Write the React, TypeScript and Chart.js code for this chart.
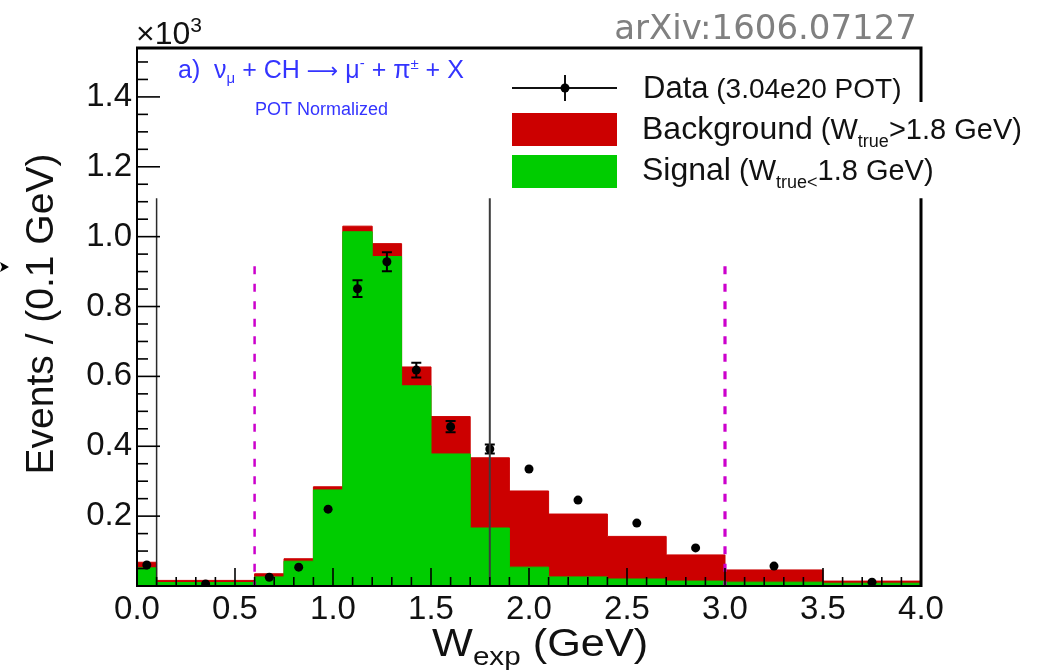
import React, { useEffect, useRef } from 'react';
import { Chart, registerables } from 'chart.js';

Chart.register(...registerables);

// ---- data ----
const binEdges = [0, 0.1, 0.6, 0.75, 0.9, 1.05, 1.2, 1.35, 1.5, 1.7, 1.9, 2.1, 2.4, 2.7, 3.0, 3.5, 4.0];
const signalValues = [0.052, 0.010, 0.026, 0.071, 0.275, 1.014, 0.943, 0.573, 0.378, 0.166, 0.054, 0.026, 0.020, 0.014, 0.011, 0.008];
const backgroundValues = [0.016, 0.006, 0.009, 0.007, 0.009, 0.016, 0.037, 0.054, 0.107, 0.201, 0.218, 0.180, 0.122, 0.075, 0.035, 0.006];
const dataX = [0.05, 0.35, 0.675, 0.825, 0.975, 1.125, 1.275, 1.425, 1.6, 1.8, 2.0, 2.25, 2.55, 2.85, 3.25, 3.75];
const dataY = [0.060, 0.006, 0.025, 0.054, 0.220, 0.851, 0.928, 0.618, 0.456, 0.392, 0.335, 0.246, 0.180, 0.109, 0.057, 0.011];
const dataErr = [0.006, 0.003, 0.005, 0.007, 0.012, 0.024, 0.027, 0.021, 0.016, 0.013, 0.011, 0.008, 0.007, 0.006, 0.004, 0.003];

const xMin = 0;
const xMax = 4;
const yMin = 0;
const yMax = 1.54;
const xMajorStep = 0.5;
const xMinorStep = 0.1;
const yMajorStep = 0.2;
const yMinorStep = 0.05;
const yTickTop = 1.5;

const cutLines = [0.6, 3.0];
const cutTop = 0.915;
const trueCut = 1.8;
const lowerPadTop = 1.11;

const RED = '#cc0000';
const GREEN = '#00cc00';
const MAGENTA = '#cc00cc';
const BLUE = '#3434ff';
const INK = '#111111';
const SANS = '"Liberation Sans", Arial, Helvetica, sans-serif';

type Part = { t: string; size: number; dy?: number; family?: string };

function drawRich(ctx: CanvasRenderingContext2D, parts: Part[], x: number, y: number, color: string, sx = 1) {
  ctx.save();
  ctx.translate(x, y);
  ctx.scale(sx, 1);
  ctx.fillStyle = color;
  ctx.textBaseline = 'alphabetic';
  ctx.textAlign = 'left';
  let cx = 0;
  for (const p of parts) {
    ctx.font = `${p.size}px ${p.family || SANS}`;
    ctx.fillText(p.t, cx, p.dy || 0);
    cx += ctx.measureText(p.t).width;
  }
  ctx.restore();
}

const rootPlugin = {
  id: 'rootStyle',
  afterDatasetsDraw(chart: any) {
    const ctx: CanvasRenderingContext2D = chart.ctx;
    const xs = chart.scales.x;
    const ys = chart.scales.y;
    const area = chart.chartArea;
    ctx.save();

    // error bars of data
    ctx.strokeStyle = '#000';
    ctx.lineWidth = 2;
    for (let i = 0; i < dataX.length; i++) {
      const px = xs.getPixelForValue(dataX[i]);
      const pLo = ys.getPixelForValue(dataY[i] - dataErr[i]);
      const pHi = ys.getPixelForValue(dataY[i] + dataErr[i]);
      if (pLo - pHi > 9) {
        ctx.beginPath();
        ctx.moveTo(px, pLo);
        ctx.lineTo(px, pHi);
        ctx.moveTo(px - 5, pLo);
        ctx.lineTo(px + 5, pLo);
        ctx.moveTo(px - 5, pHi);
        ctx.lineTo(px + 5, pHi);
        ctx.stroke();
      }
    }

    // magenta cut lines
    ctx.strokeStyle = MAGENTA;
    ctx.setLineDash([8, 9.5]);
    cutLines.forEach((c, i) => {
      ctx.lineWidth = i === 0 ? 2.5 : 3.2;
      const px = xs.getPixelForValue(c);
      ctx.beginPath();
      ctx.moveTo(px, ys.getPixelForValue(cutTop));
      ctx.lineTo(px, ys.getPixelForValue(0));
      ctx.stroke();
    });
    ctx.setLineDash([]);

    // W_true cut line
    ctx.strokeStyle = '#3c3c3c';
    ctx.lineWidth = 2;
    let px = xs.getPixelForValue(trueCut);
    ctx.beginPath();
    ctx.moveTo(px, ys.getPixelForValue(lowerPadTop));
    ctx.lineTo(px, ys.getPixelForValue(0));
    ctx.stroke();

    // inner (second pad) left axis line
    ctx.strokeStyle = '#2a2a2a';
    ctx.lineWidth = 1.5;
    px = xs.getPixelForValue(binEdges[1]);
    ctx.beginPath();
    ctx.moveTo(px, ys.getPixelForValue(lowerPadTop));
    ctx.lineTo(px, ys.getPixelForValue(0));
    ctx.stroke();

    // ticks
    ctx.strokeStyle = '#000';
    ctx.lineWidth = 1.6;
    const yb = ys.getPixelForValue(0);
    for (let k = 0; k <= Math.round((xMax - xMin) / xMinorStep); k++) {
      const v = xMin + k * xMinorStep;
      const isMajor = Math.abs(v / xMajorStep - Math.round(v / xMajorStep)) < 1e-6;
      const p = xs.getPixelForValue(v);
      ctx.beginPath();
      ctx.moveTo(p, yb);
      ctx.lineTo(p, yb - (isMajor ? 18 : 9));
      ctx.stroke();
    }
    const xl = xs.getPixelForValue(xMin);
    for (let k = 0; k <= Math.round((yTickTop - yMin) / yMinorStep); k++) {
      const v = yMin + k * yMinorStep;
      const isMajor = Math.abs(v / yMajorStep - Math.round(v / yMajorStep)) < 1e-6;
      const p = ys.getPixelForValue(v);
      ctx.beginPath();
      ctx.moveTo(xl, p);
      ctx.lineTo(xl + (isMajor ? 23 : 11), p);
      ctx.stroke();
    }

    // frame
    ctx.strokeStyle = '#000';
    ctx.lineWidth = 2;
    ctx.beginPath();
    ctx.moveTo(area.left, area.top);
    ctx.lineTo(area.left, area.bottom);
    ctx.lineTo(area.right, area.bottom);
    ctx.stroke();
    ctx.lineWidth = 3;
    ctx.beginPath();
    ctx.moveTo(area.left - 1, area.top);
    ctx.lineTo(area.right, area.top);
    ctx.lineTo(area.right, 102);
    ctx.moveTo(area.right, ys.getPixelForValue(lowerPadTop));
    ctx.lineTo(area.right, area.bottom + 1);
    ctx.stroke();
    ctx.restore();
  },
  afterDraw(chart: any) {
    const ctx: CanvasRenderingContext2D = chart.ctx;
    ctx.save();

    // exponent
    drawRich(ctx, [{ t: '×10', size: 32 }, { t: '3', size: 21, dy: -12 }], 136, 44, INK);

    // arXiv tag
    ctx.font = '34px "DejaVu Sans", sans-serif';
    ctx.fillStyle = '#808080';
    ctx.textAlign = 'right';
    ctx.textBaseline = 'alphabetic';
    ctx.fillText('arXiv:1606.07127', 917, 39);

    // process label
    drawRich(
      ctx,
      [
        { t: 'a)  ν', size: 25 },
        { t: 'μ', size: 15, dy: 5 },
        { t: ' + CH ', size: 25 },
        { t: '⟶', size: 22, family: '"DejaVu Sans", sans-serif' },
        { t: ' μ', size: 25 },
        { t: '-', size: 15, dy: -10 },
        { t: ' + π', size: 25 },
        { t: '±', size: 15, dy: -9 },
        { t: ' + X', size: 25 },
      ],
      178,
      78,
      BLUE
    );
    drawRich(ctx, [{ t: 'POT Normalized', size: 18 }], 255, 115, BLUE);

    // legend
    ctx.strokeStyle = '#111';
    ctx.lineWidth = 2;
    ctx.beginPath();
    ctx.moveTo(512, 88);
    ctx.lineTo(617, 88);
    ctx.moveTo(565, 75);
    ctx.lineTo(565, 101);
    ctx.stroke();
    ctx.fillStyle = '#000';
    ctx.beginPath();
    ctx.arc(565, 88, 4.5, 0, Math.PI * 2);
    ctx.fill();
    ctx.fillStyle = RED;
    ctx.fillRect(512, 113, 105, 33);
    ctx.fillStyle = GREEN;
    ctx.fillRect(512, 155, 105, 33);

    drawRich(ctx, [{ t: 'Data', size: 31 }, { t: ' (3.04e20 POT)', size: 28 }], 643, 98, INK);
    drawRich(
      ctx,
      [
        { t: 'Background', size: 32 },
        { t: ' (W', size: 29 },
        { t: 'true', size: 18, dy: 8 },
        { t: '>1.8 GeV)', size: 29 },
      ],
      642,
      139,
      INK
    );
    drawRich(
      ctx,
      [
        { t: 'Signal', size: 32 },
        { t: ' (W', size: 29 },
        { t: 'true<', size: 18, dy: 8 },
        { t: '1.8 GeV)', size: 29 },
      ],
      642,
      180,
      INK
    );

    // axis titles
    drawRich(
      ctx,
      [{ t: 'W', size: 38 }, { t: 'exp', size: 26, dy: 9 }, { t: ' (GeV)', size: 38 }],
      432,
      656,
      INK,
      1.14
    );
    ctx.save();
    ctx.translate(53, 314);
    ctx.rotate(-Math.PI / 2);
    ctx.font = `39px ${SANS}`;
    ctx.fillStyle = INK;
    ctx.textAlign = 'center';
    ctx.textBaseline = 'alphabetic';
    ctx.fillText('Events / (0.1 GeV)', 0, 0);
    ctx.restore();

    // small arrow artefact at left edge
    ctx.fillStyle = '#000';
    ctx.beginPath();
    ctx.moveTo(0, 262);
    ctx.lineTo(9, 267);
    ctx.lineTo(0, 272);
    ctx.lineTo(2, 267);
    ctx.closePath();
    ctx.fill();

    ctx.restore();
  },
};

function stepPoints(values: number[]) {
  const pts = values.map((v, i) => ({ x: binEdges[i], y: v }));
  pts.push({ x: binEdges[binEdges.length - 1], y: values[values.length - 1] });
  return pts;
}

export default function App() {
  const canvasRef = useRef<HTMLCanvasElement | null>(null);

  useEffect(() => {
    if (!canvasRef.current) return;
    const totals = signalValues.map((s, i) => s + backgroundValues[i]);
    const chart = new Chart(canvasRef.current, {
      type: 'scatter',
      data: {
        datasets: [
          {
            type: 'scatter',
            label: 'Data',
            data: dataX.map((x, i) => ({ x, y: dataY[i] })),
            pointRadius: 4.5,
            pointBackgroundColor: '#000',
            pointBorderWidth: 0,
            order: 0,
          } as any,
          {
            type: 'line',
            label: 'Signal',
            data: stepPoints(signalValues),
            stepped: 'before',
            fill: 'origin',
            backgroundColor: GREEN,
            borderColor: GREEN,
            borderWidth: 1,
            pointRadius: 0,
            order: 1,
          } as any,
          {
            type: 'line',
            label: 'Background',
            data: stepPoints(totals),
            stepped: 'before',
            fill: 'origin',
            backgroundColor: RED,
            borderColor: RED,
            borderWidth: 1,
            pointRadius: 0,
            order: 2,
          } as any,
        ],
      },
      options: {
        animation: false,
        responsive: false,
        devicePixelRatio: 1,
        layout: { padding: { top: 48, right: 120, left: 0, bottom: 0 } },
        plugins: { legend: { display: false }, tooltip: { enabled: false } },
        scales: {
          x: {
            type: 'linear',
            min: xMin,
            max: xMax,
            grid: { display: false, drawTicks: false },
            border: { display: false },
            ticks: {
              stepSize: xMajorStep,
              autoSkip: false,
              maxRotation: 0,
              padding: 4,
              color: INK,
              font: { size: 33, family: SANS },
              callback: (v: any) => Number(v).toFixed(1),
            },
            afterFit: (s: any) => {
              s.height = 86;
            },
          },
          y: {
            type: 'linear',
            min: yMin,
            max: yMax,
            grid: { display: false, drawTicks: false },
            border: { display: false },
            ticks: {
              stepSize: yMajorStep,
              includeBounds: false,
              padding: 5,
              color: INK,
              font: { size: 33, family: SANS },
              callback: (v: any) => (Number(v) === 0 ? '' : Number(v).toFixed(1)),
            },
            afterFit: (s: any) => {
              s.width = 137;
            },
          },
        },
      } as any,
      plugins: [rootPlugin],
    });
    return () => chart.destroy();
  }, []);

  return (
    <div style={{ position: 'absolute', left: 0, top: 0, width: 1041, height: 672, background: '#fff' }}>
      <canvas ref={canvasRef} width={1041} height={672} style={{ display: 'block' }} />
    </div>
  );
}
